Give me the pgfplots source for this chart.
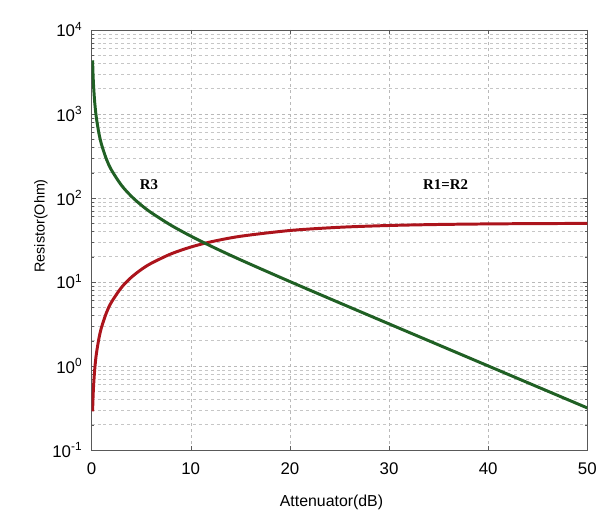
\documentclass[border=0pt]{standalone}
\usepackage{pgfplots}
\pgfplotsset{compat=1.18}
\usepackage{fontspec}
\setmainfont{Liberation Sans}
\newfontfamily\serif{Liberation Serif}
\definecolor{rline}{RGB}{172,20,28}
\definecolor{gline}{RGB}{32,96,36}

\begin{document}
\begin{tikzpicture}
  \begin{axis}[
    name=ax,
    scale only axis,
    width=498bp, height=422bp,
    xmin=0, xmax=50,
    ymode=log, log basis y=10,
    ymin=0.1, ymax=10000,
    xtick={0,10,20,30,40,50},
    ytick={0.1,1,10,100,1000,10000},
    minor ytick={0.2,0.3,0.4,0.5,0.6,0.7,0.8,0.9,
                 2,3,4,5,6,7,8,9,
                 20,30,40,50,60,70,80,90,
                 200,300,400,500,600,700,800,900,
                 2000,3000,4000,5000,6000,7000,8000,9000},
    yticklabels={10\textsuperscript{-1},10\textsuperscript{0},10\textsuperscript{1},10\textsuperscript{2},10\textsuperscript{3},10\textsuperscript{4}},
    /pgf/number format/assume math mode=true,
    tick label style={font=\fontsize{17}{20}\selectfont},
    xlabel={Attenuator(dB)},
    ylabel={Resistor(Ohm)},
    xlabel style={font=\fontsize{16}{18}\selectfont, yshift=-14bp, xshift=-8bp},
    ylabel style={font=\fontsize{14.5}{17}\selectfont, yshift=-2bp, xshift=14bp},
    yticklabel style={xshift=-6bp},
    xticklabel style={yshift=-9bp},
    xmajorgrids, ymajorgrids, yminorgrids,
    major grid style={gray!55, dashed},
    minor grid style={gray!45, dashed},
    axis line style={gray!70!black},
    tick style={gray!70!black},
  ]
    % R1 = R2
    \addplot[rline, line width=3pt, smooth] coordinates {
      (0.1,0.2878) (0.15,0.4317) (0.2,0.5756) (0.3,0.8634) (0.4,1.1511)
      (0.5,1.4387) (0.75,2.1573) (1,2.8751) (1.5,4.3067) (2,5.7312)
      (3,8.550) (4,11.314) (5,14.007) (6,16.614) (8,21.525) (10,25.975)
      (12,29.924) (15,34.902) (20,40.909) (25,44.676) (30,46.935)
      (35,48.253) (40,49.010) (45,49.441) (50,49.685)
    };
    % R3
    \addplot[gline, line width=3pt, smooth] coordinates {
      (0.1,4342.9) (0.15,2895.2) (0.2,2171.3) (0.3,1447.4) (0.4,1085.4)
      (0.5,868.1) (0.75,578.3) (1,433.3) (1.5,288.1) (2,215.24)
      (3,141.93) (4,104.83) (5,82.24) (6,66.93) (8,47.31) (10,35.14)
      (12,26.81) (15,18.36) (20,10.101) (25,5.641) (30,3.1655)
      (35,1.7789) (40,1.0001) (45,0.5624) (50,0.3162)
    };
    \node[font=\serif\bfseries\fontsize{15}{17}\selectfont] at (axis cs:5.8,145) {R3};
    \node[font=\serif\bfseries\fontsize{15}{17}\selectfont] at (axis cs:35.7,145) {R1=R2};
  \end{axis}
  \path[use as bounding box] ([xshift=-92bp,yshift=-50bp]ax.south west)
    rectangle ([xshift=10bp,yshift=30bp]ax.north east);
\end{tikzpicture}
\end{document}
